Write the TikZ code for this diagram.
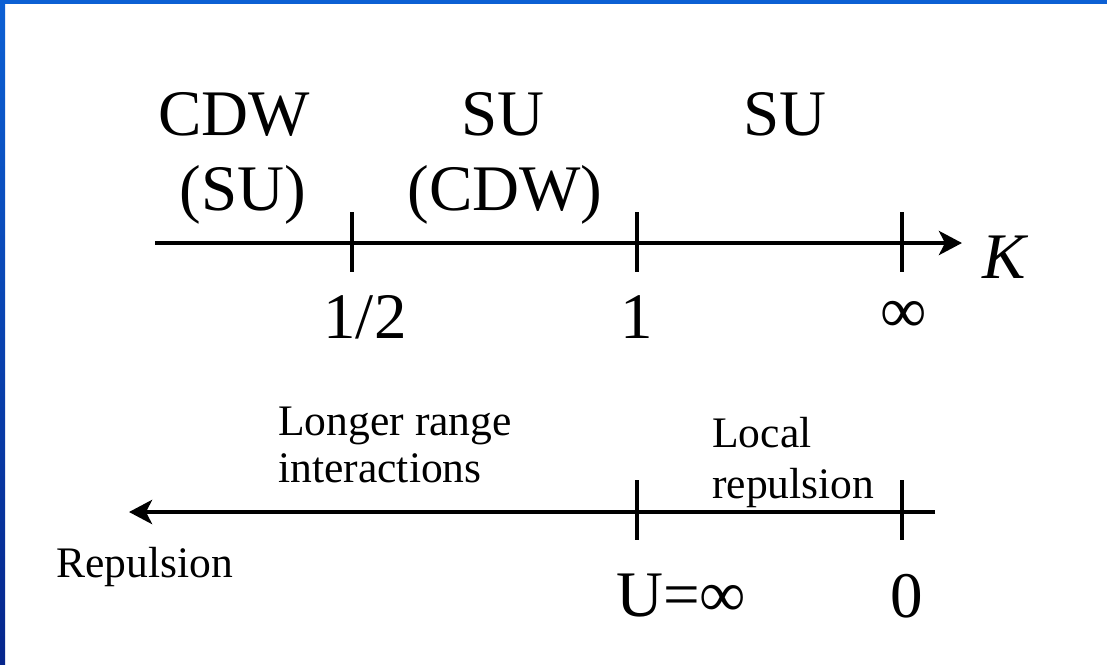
\documentclass[tikz,border=0pt]{standalone}
\usepackage{fontspec}
\setmainfont{Liberation Serif}
\usetikzlibrary{arrows.meta}
\definecolor{frametop}{RGB}{12,96,212}
\definecolor{framebot}{RGB}{6,38,140}
\tikzset{
  axis/.style={line width=2.4pt},
  tick/.style={line width=2.2pt},
  big/.style={font=\fontsize{37}{44}\selectfont, inner sep=0pt, anchor=base},
  small/.style={font=\fontsize{24.8}{29}\selectfont, inner sep=0pt, anchor=base west},
  axtip/.style={-{Stealth[length=0.46cm,width=0.48cm,inset=0.12cm]}}
}
\begin{document}
\begin{tikzpicture}[x=0.02cm,y=-0.02cm]
\useasboundingbox (0,0) rectangle (1107,664);
\fill[white] (0,0) rectangle (1107,664);
% blue frame along the top and left edges
\fill[frametop] (0,0) rectangle (1107,4);
\shade[top color=frametop, bottom color=framebot] (0,0) rectangle (5,664);

% upper axis: K
\coordinate (k0) at (155,243);
\coordinate (k1) at (962,243);
\coordinate (th) at (352,243);
\coordinate (tone) at (637,243);
\coordinate (tinf) at (902,243);
\draw[axis,axtip] (k0) -- (k1);
\foreach \t in {th,tone,tinf}
  \draw[tick] ([yshift=0.62cm]\t) -- ([yshift=-0.58cm]\t);

\node[big] (cdw) at (234,135) {CDW};
\node[big] (su1) at (243,210) {(SU)};
\node[big] (su2) at (503,135) {SU};
\node[big] (cdw2) at (505,210) {(CDW)};
\node[big] (su3) at (785,135) {SU};
\node[big, font=\fontsize{37}{44}\selectfont\itshape] (kl) at (1004,278) {K};
\node[big] (lh) at (365,338) {1/2};
\node[big] (lone) at (637,338) {1};
\node[big] (linf) at (904,332) {∞};

% lower axis: U
\coordinate (u0) at (935,512);
\coordinate (u1) at (129,512);
\coordinate (tuinf) at (637,512);
\coordinate (tzero) at (902,512);
\draw[axis,axtip] (u0) -- (u1);
\foreach \t in {tuinf,tzero}
  \draw[tick] ([yshift=0.64cm]\t) -- ([yshift=-0.56cm]\t);

\node[small] (lr1) at (278,435) {Longer range};
\node[small] (lr2) at (278,482) {interactions};
\node[small] (lc1) at (712,447) {Local};
\node[small] (lc2) at (712,498) {repulsion};
\node[small] (rep) at (56,577) {Repulsion};
\node[big, anchor=base west] (uinf) at (616,616) {U=∞};
\node[big] (zero) at (907,617) {0};
\end{tikzpicture}
\end{document}
